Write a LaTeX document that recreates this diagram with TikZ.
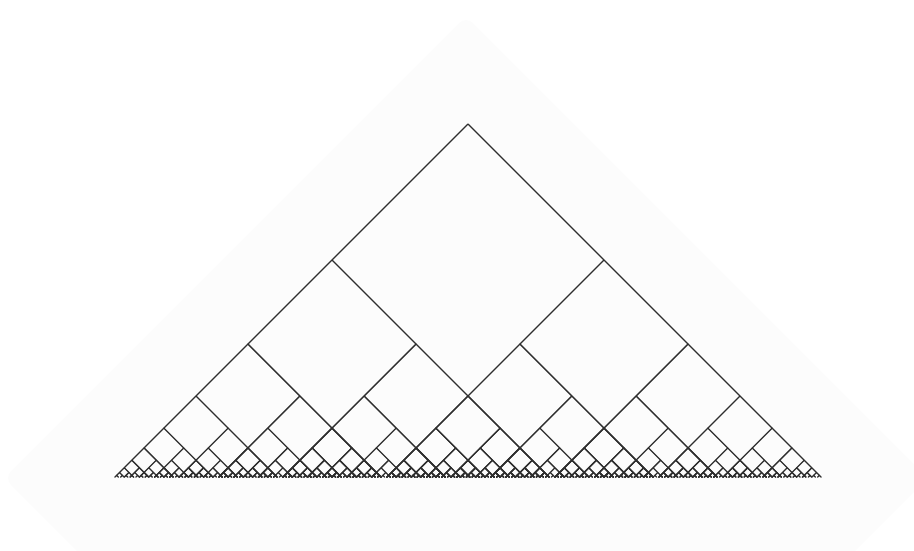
\documentclass[tikz,border=0pt]{standalone}
\usepackage{tikz}
\usetikzlibrary{calc}
\definecolor{branchgray}{HTML}{2E2E2E}
\definecolor{haze}{HTML}{FCFCFC}
\tikzset{
  treeline/.style={draw=branchgray,line width=1.3pt,line cap=round},
  hazebox/.style={fill=haze,draw=none,rounded corners=10pt},
}
% x y length depth
\def\vbranch#1#2#3#4{%
  \ifnum#4>0\relax
    \pgfmathsetmacro\ax{#1-#3}\pgfmathsetmacro\bx{#1+#3}%
    \pgfmathsetmacro\ny{#2+#3}\pgfmathsetmacro\nl{#3*0.618034}%
    \pgfmathtruncatemacro\nd{#4-1}%
    \path[treeline] (#1,#2) -- (\ax,\ny) (#1,#2) -- (\bx,\ny);
    \edef\next{\noexpand\vbranch{\ax}{\ny}{\nl}{\nd}\noexpand\vbranch{\bx}{\ny}{\nl}{\nd}}%
    \next
  \fi}
\begin{document}
\begin{tikzpicture}[x=1pt,y=-1pt]
  \useasboundingbox (0,0) rectangle (914,550);
  \begin{scope}
    \clip (0,0) rectangle (914,550);
    \path[hazebox] (466,16) -- (4,478) -- (466,940) -- (928,478) -- cycle;
  \end{scope}
  \vbranch{468}{124}{136}{10}
\end{tikzpicture}
\end{document}
